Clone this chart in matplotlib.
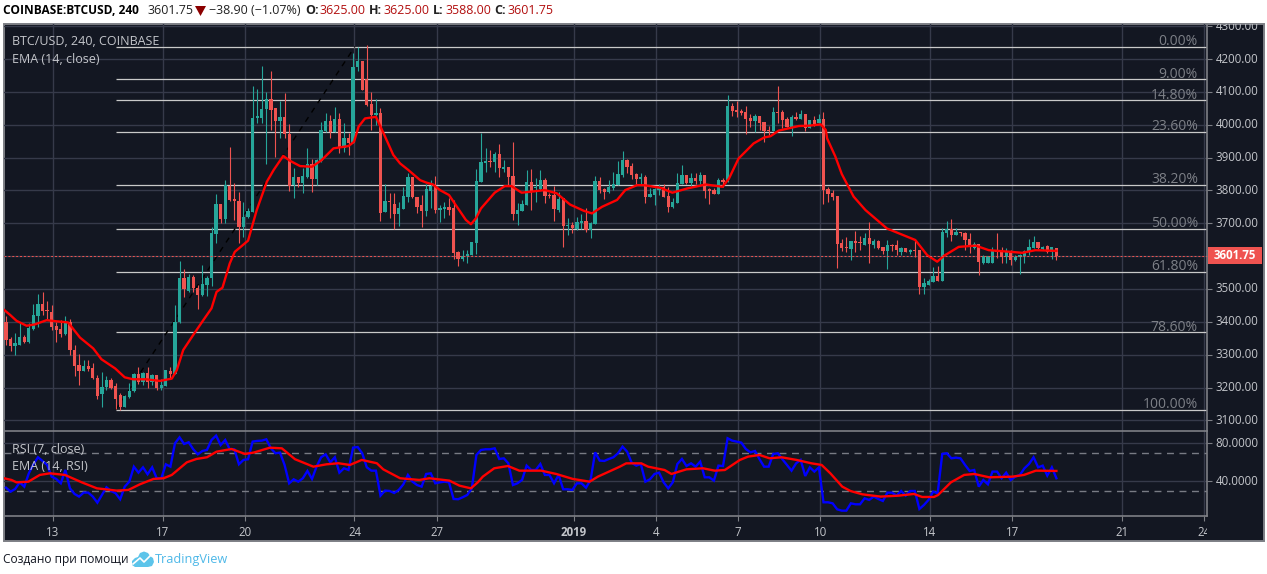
import matplotlib
matplotlib.use("Agg")
import matplotlib.pyplot as plt
from matplotlib.patches import Rectangle, Polygon
from matplotlib.transforms import Affine2D, Bbox

opens = [3400,3348,3326,3330,3355,3338,3379,3418,3455,3437,
3431,3388,3377,3362,3400,3315,3268,3251,3265,3258,
3230,3180,3202,3222,3205,3177,3142,3170,3188,3240,
3218,3244,3217,3239,3200,3205,3250,3242,3400,3533,
3495,3535,3502,3482,3512,3532,3667,3758,3712,3813,
3774,3768,3690,3720,3735,4021,4021,4047,4077,4052,
4011,4023,3971,3815,3840,3823,3840,3880,3834,3890,
3982,4011,3979,4017,3930,3959,3943,4177,4194,4138,
4062,4030,4035,3735,3768,3760,3728,3742,3781,3840,
3781,3755,3738,3798,3813,3740,3743,3749,3746,3612,
3591,3600,3603,3641,3827,3884,3890,3887,3910,3865,
3871,3844,3728,3738,3756,3826,3806,3803,3831,3787,
3786,3740,3778,3692,3695,3681,3700,3707,3680,3699,
3829,3805,3795,3808,3815,3847,3893,3874,3851,3834,
3841,3781,3786,3801,3811,3783,3749,3761,3821,3847,
3823,3838,3828,3847,3803,3801,3789,3832,3826,4057,
4045,4042,4039,4020,4010,4026,4008,3983,3981,4038,
4038,4017,3994,4023,4017,4032,3991,4014,4004,4017,
3804,3792,3783,3641,3628,3623,3646,3644,3634,3655,
3634,3646,3628,3617,3634,3634,3614,3626,3613,3620,
3618,3507,3513,3522,3539,3525,3671,3683,3665,3673,
3669,3652,3625,3637,3578,3579,3579,3618,3616,3596,
3616,3588,3596,3601,3613,3625,3644,3623,3630,3611,3625]

closes = [3345,3326,3335,3354,3340,3380,3421,3455,3433,3432,
3385,3375,3363,3400,3315,3265,3250,3265,3255,3228,
3175,3200,3224,3200,3165,3140,3175,3188,3240,3218,
3245,3216,3239,3199,3209,3252,3242,3400,3532,3499,
3537,3502,3482,3515,3534,3669,3758,3712,3816,3771,
3768,3690,3720,3738,4021,4027,4048,4077,4045,4011,
4023,3971,3813,3840,3822,3844,3880,3834,3893,3984,
4011,3978,4017,3928,3958,3943,4175,4194,4106,4060,
4030,4035,3732,3768,3766,3729,3745,3783,3840,3781,
3750,3738,3804,3813,3740,3746,3749,3740,3610,3591,
3600,3605,3643,3829,3885,3889,3886,3910,3867,3871,
3842,3728,3740,3758,3826,3796,3811,3831,3783,3783,
3743,3774,3692,3696,3685,3704,3707,3680,3702,3829,
3801,3795,3810,3819,3850,3893,3870,3847,3834,3841,
3781,3789,3804,3811,3781,3749,3765,3823,3847,3823,
3838,3828,3847,3798,3798,3789,3832,3826,4057,4041,
4040,4037,4016,4010,4026,4006,3981,3980,4038,4035,
4014,3994,4022,4016,4032,3991,4014,4002,4017,3801,
3790,3780,3638,3626,3624,3646,3641,3641,3655,3637,
3647,3625,3617,3634,3631,3619,3626,3613,3620,3616,
3507,3517,3524,3539,3525,3673,3683,3664,3673,3669,
3649,3632,3637,3583,3600,3600,3618,3613,3596,3611,
3588,3596,3603,3615,3627,3644,3626,3628,3611,3628,3601.75]

highs = [3418,3355,3365,3395,3360,3395,3455,3485,3490,3464,
3452,3400,3405,3418,3408,3330,3302,3285,3285,3275,
3238,3248,3235,3230,3215,3182,3177,3215,3243,3262,
3247,3263,3242,3239,3227,3254,3263,3452,3585,3560,
3545,3543,3512,3573,3538,3690,3790,3758,3832,3931,
3823,3796,3765,3745,4118,4110,4179,4100,4164,4052,
4072,4098,4002,3867,3840,3867,3928,3895,3895,4008,
4035,4030,4053,4035,4004,3974,4217,4237,4194,4243,
4101,4077,4050,3820,3793,3791,3765,3811,3852,3840,
3781,3786,3821,3832,3844,3757,3765,3776,3770,3615,
3618,3618,3643,3865,3974,3928,3923,3916,3941,3892,
3871,3947,3762,3771,3862,3865,3837,3862,3837,3793,
3814,3794,3778,3715,3705,3720,3728,3747,3705,3844,
3842,3808,3832,3855,3890,3920,3896,3882,3853,3852,
3846,3806,3806,3821,3818,3811,3776,3852,3877,3847,
3852,3852,3855,3847,3808,3808,3838,3838,4090,4065,
4072,4047,4057,4034,4032,4026,4008,3996,4053,4118,
4045,4024,4029,4038,4045,4032,4014,4026,4032,4038,
3809,3801,3783,3652,3657,3646,3677,3661,3669,3704,
3651,3649,3628,3649,3637,3649,3628,3626,3622,3649,
3618,3532,3529,3568,3570,3687,3707,3713,3687,3673,
3674,3669,3643,3637,3603,3600,3628,3669,3628,3626,
3618,3603,3605,3620,3652,3661,3644,3632,3634,3628,3625]

lows = [3330,3312,3298,3330,3336,3335,3375,3385,3420,3410,
3375,3340,3355,3360,3300,3235,3207,3250,3250,3226,
3165,3140,3192,3195,3135,3133,3142,3168,3185,3210,
3208,3200,3208,3192,3192,3205,3230,3242,3395,3475,
3490,3490,3440,3478,3480,3510,3640,3700,3702,3769,
3710,3641,3659,3715,3733,4005,4006,3880,3984,3901,
3961,3961,3799,3778,3811,3793,3837,3796,3816,3887,
3979,3958,3977,3913,3917,3908,3943,4164,4106,4058,
3984,3999,3708,3735,3715,3681,3691,3742,3766,3776,
3730,3690,3722,3745,3730,3705,3715,3725,3591,3570,
3586,3580,3603,3606,3825,3857,3872,3857,3842,3857,
3816,3710,3696,3738,3756,3740,3765,3801,3763,3776,
3707,3735,3629,3664,3669,3680,3681,3674,3656,3699,
3793,3773,3793,3801,3815,3842,3852,3836,3819,3821,
3762,3781,3756,3785,3779,3735,3745,3761,3821,3820,
3813,3819,3819,3777,3758,3789,3789,3811,3826,4026,
4023,4030,3972,3994,3978,3984,3947,3969,3981,4006,
3990,3992,3967,4014,4017,3981,3991,3996,4004,3759,
3766,3771,3565,3616,3611,3588,3613,3619,3634,3580,
3626,3621,3606,3561,3615,3603,3603,3611,3606,3598,
3485,3485,3512,3522,3525,3525,3659,3647,3664,3661,
3618,3608,3623,3543,3575,3579,3579,3593,3580,3580,
3573,3586,3545,3580,3603,3625,3623,3619,3610,3591,3588]

ema_x = [-0.4,0.9,2.3,4.5,6.3,8.9,10.7,13.6,16.2,19.1,20.9,23.9,26,27.8,30.7,33.7,36.3,37.4,38.8,41,43.2,45,46.1,
47.4,49,50.1,53,54.9,57.1,58.6,60.7,62.2,64.4,67,69.1,71.7,75,76.2,77.2,78.6,81,82.7,84.8,86.3,88.1,90.7,
92,93.5,95,97,98.5,100.7,101.8,102.9,104,107,109.2,110.7,112.9,115.5,118,120.6,123.5,126.5,128.3,130.5,133.8,135.6,138.2,139.6,143.3,145.9,149.2,153.2,156.9,158.3,160.4,163.7,166,167.4,169.2,173.6,175.8,178.4,179.5,
179.8,181.6,183,185.6,188.2,192.9,199.1,201.7,203.9,205.4,208.6,212.3,215.2,220,222.5,225.4,230]
ema_y = [3436,3421,3403,3388,3392,3405,3402,3398,3352,3319,3286,3258,3231,3225,3225,3220,3227,3253,3314,3360,3405,3441,3491,
3504,3578,3613,3647,3740,3826,3862,3905,3890,3874,3872,3892,3928,3935,3948,3994,4019,4024,3973,3908,3882,3862,3831,
3824,3818,3801,3786,3755,3710,3697,3715,3745,3793,3813,3813,3793,3797,3801,3791,3757,3738,3730,3750,3771,3801,3816,3816,3808,3793,3806,3818,3811,3836,3897,3943,3961,3965,3982,3996,3997,4001,3984,
3958,3903,3850,3781,3740,3684,3649,3603,3583,3601,3628,3632,3618,3613,3610,3618,3616]

rsi = [33.3,29.1,31.9,38.9,34.4,48.4,57.9,65.3,61.4,57.2,
44.9,42.5,37.9,51.9,32.6,26.7,23.9,28.1,28.1,23.9,
17.5,25.6,33.7,29.8,27.4,21.1,34.4,39.6,55.4,49.1,
54.7,47.4,54.7,43.2,43.2,57.9,55.4,80.0,86.3,79.3,
81.1,73.7,68.4,71.9,73.0,83.5,88.1,78.2,83.5,73.7,
73.7,57.9,62.5,63.2,81.8,82.5,82.8,84.2,74.7,69.5,
70.2,57.2,37.9,42.1,39.6,43.2,50.9,42.5,55.4,65.3,
68.4,60.0,65.3,49.1,53.7,51.9,75.4,76.1,69.5,54.7,
51.2,51.2,24.9,30.2,29.8,27.7,30.9,36.8,46.7,39.6,
36.1,34.4,47.7,48.4,37.9,38.9,39.6,38.9,21.4,21.1,
23.2,25.6,32.6,67.7,73.0,73.7,73.7,74.7,63.5,64.2,
58.9,36.1,37.9,41.4,56.5,51.9,51.9,58.2,46.7,46.7,
37.9,46.7,31.6,31.6,30.9,37.9,37.9,33.3,41.4,70.5,
61.8,61.4,63.5,65.3,69.5,76.5,71.2,59.6,56.5,58.2,
39.6,42.1,47.7,49.1,38.9,32.6,38.9,58.2,63.5,56.1,
58.9,55.4,60.7,44.2,44.2,40.7,56.5,56.1,85.3,82.8,
81.8,80.7,74.0,70.5,71.9,63.2,55.4,55.4,68.8,69.5,
63.2,57.2,51.2,58.9,62.5,45.6,54.7,50.2,54.7,17.9,
17.9,16.8,10.5,9.1,9.1,16.8,15.8,15.8,22.1,20.4,
23.9,21.4,19.3,28.1,28.1,24.9,29.8,24.9,29.8,29.8,
10.9,15.1,20.4,29.1,27.4,68.8,69.5,64.2,64.9,64.2,
57.2,50.9,51.9,34.4,41.4,36.8,50.2,50.2,43.2,49.1,
41.4,44.9,46.7,53.7,58.2,65.3,54.7,56.5,46.0,54.7,43.2]

rsi_ema_x = [-0.4,1.2,2.3,4.9,7.4,9.6,12.9,16.6,19.9,24.2,26.8,29.3,32.3,34.5,36.3,39.6,41.7,44,46.1,49.4,52.3,54.2,57.8,60.4,63.3,67.3,70.2,72.8,75.3,77.9,81.2,82.6,86.3,90.5,
92.7,97.1,99.3,101.8,103.3,104.4,106.9,109.9,112.4,117.2,120.5,124.1,127.8,129.6,134.4,135.8,139.1,140.6,144.2,145.7,149,152.6,155.2,157.4,160.7,162.5,165,167.2,169.8,173.1,176.4,178.6,
180.5,183.1,184.9,187.5,191.5,195.5,198.8,200.6,203.2,204.1,206.9,209.8,212,215.3,220.4,222.9,225.5,230]
rsi_ema_y = [43.2,41.4,38.9,39.6,46.7,48.4,46.7,38.9,32.6,30.2,30.9,36.8,42.5,43.2,46.7,60,63.5,65.3,71.2,74,68.8,70.2,75.4,74.7,63.2,55.4,57.9,59,57.2,62.5,59,52.6,43.2,41.4,
43.2,40.7,35.4,32.6,38.9,44.9,53.7,56.1,51.2,51.2,47.7,42.5,39.6,44.9,55.4,58.9,58.9,55.4,51.9,47.7,52.6,53.7,51.2,51.9,62.5,66,67.7,64.2,65.3,62.5,58.9,57.2,
48.4,34.4,29.8,26.3,23.9,24.9,26.7,23.5,23.5,25.6,38.9,46.7,47.7,44.2,44.9,46.7,51.2,50.9]

fib_levels = [4238,4138,4074,3977,3816,3684,3553,3368,3133]
fib_labels = ["0.00%","9.00%","14.80%","23.60%","38.20%","50.00%","61.80%","78.60%","100.00%"]
fib_start = 24.1
trend_x = [24.1,76.4]
trend_y = [3133,4238]
price_ticks = [4300,4200,4100,4000,3900,3800,3700,3600,3500,3400,3300,3200,3100]
rsi_ticks = [80,40]
rsi_bands = [70,30]
date_pos = [10,34,52,76,94,124,142,160,178,202,220,244,262]
date_labels = ["13","17","20","24","27","2019","4","7","10","14","17","21","24"]
last_price = 3601.75
header_items = [("COINBASE:BTCUSD, 240",3,"#000000","bold",8.6),("3601.75",147,"#222222","normal",9.0),
                ("\u221238.90 (\u22121.07%)",209,"#222222","normal",9.0),("O:",305.5,"#222222","bold",9.0),("3625.00",320,"#b20f0f","normal",9.0),
                ("H:",369,"#222222","bold",9.0),("3625.00",383,"#b20f0f","normal",9.0),("L:",433,"#222222","bold",9.0),
                ("3588.00",445,"#b20f0f","normal",9.0),("C:",494,"#222222","bold",9.0),("3601.75",507,"#b20f0f","normal",9.0)]

W, H = 1267, 574
BG, GRID, UP, DOWN = "#131722", "#363a4a", "#26a69a", "#ef5350"
EDGE, TXT = "#7d7f85", "#c4c6cb"
plt.rcParams["font.family"] = ["Open Sans", "DejaVu Sans"]

fig = plt.figure(figsize=(W/100, H/100), dpi=100, facecolor="white")
PX = Affine2D().scale(1/W, -1/H).translate(0, 1) + fig.transFigure

def axes_px(l, t, r, b):
    return fig.add_axes([l/W, 1-b/H, (r-l)/W, (b-t)/H], facecolor="none")

fig.add_artist(Rectangle((3.5, 24), 1260.5, 517, transform=PX, fc=BG, ec=EDGE, lw=1.4, zorder=0))

X0, DX = 6.0, 4.567
xlim = ((3.5-X0)/DX, (1207-X0)/DX)
ax = axes_px(3.5, 24, 1207, 431)
ax2 = axes_px(3.5, 431, 1207, 516)
ax.set_xlim(*xlim); ax2.set_xlim(*xlim)
ax.set_ylim(4200-(431-59)/0.3285, 4200+(59-24)/0.3285)
ax2.set_ylim(40-(516-481.3)/0.95, 40+(481.3-431)/0.95)

tick_x = [p+0.3 for p in date_pos]
for a in (ax, ax2):
    a.set_xticks(tick_x)
    a.xaxis.grid(True, color=GRID, lw=1.0)
    a.yaxis.grid(True, color=GRID, lw=1.0)
    a.set_axisbelow(True)
    a.yaxis.tick_right()
    for s in a.spines.values():
        s.set_visible(False)
    a.spines["right"].set_visible(True); a.spines["right"].set_color(EDGE); a.spines["right"].set_linewidth(1.2)
    a.tick_params(axis="y", colors=TXT, labelsize=8.3, length=3.5, width=0.8, color=EDGE, pad=2.5)

ax.tick_params(axis="x", length=0, labelbottom=False)
ax.set_yticks(price_ticks)
ax.set_yticklabels([f"{p:.2f}" for p in price_ticks], va="center")
ax2.set_yticks(rsi_ticks)
ax2.set_yticklabels([f"{p:.4f}" for p in rsi_ticks], va="center")
ax2.spines["top"].set_visible(True); ax2.spines["top"].set_color(EDGE); ax2.spines["top"].set_linewidth(1.2)
ax2.spines["bottom"].set_visible(True); ax2.spines["bottom"].set_color(EDGE); ax2.spines["bottom"].set_linewidth(1.2)
ax2.tick_params(axis="x", colors=TXT, labelsize=8.3, length=3.5, width=0.8, color=EDGE, pad=3.5)
ax2.set_xticklabels(date_labels)
for lab in ax2.get_xticklabels():
    if lab.get_text() == "2019":
        lab.set_fontweight("bold")

# labels cut by the pane edges
fig.canvas.draw()
clip_all = Bbox.from_extents(3.5/W, 1-541/H, 1264/W, 1-24/H).transformed(fig.transFigure)
clip_time = Bbox.from_extents(3.5/W, 1-541/H, 1207/W, 1-516/H).transformed(fig.transFigure)
for lab in ax.get_yticklabels():
    lab.set_clip_box(clip_all); lab.set_clip_on(True)
for lab in ax2.get_xticklabels():
    lab.set_clip_box(clip_time); lab.set_clip_on(True)

# Fibonacci levels
for lev, name in zip(fib_levels, fib_labels):
    ax.plot([fib_start, xlim[1]], [lev, lev], color="#c9c9c9", lw=0.9, zorder=2, solid_capstyle="butt")
    ax.annotate(name, xy=((1198-X0)/DX, lev), xytext=(0, -1.6), textcoords="offset points",
                ha="right", va="bottom", color="#7d8087", fontsize=10, zorder=5)
ax.plot(trend_x, trend_y, color="#000000", lw=1.0, ls=(0, (4, 4)), zorder=2.5)

# candles
for i, (o, h, l, c) in enumerate(zip(opens, highs, lows, closes)):
    col = UP if c >= o else DOWN
    ax.plot([i, i], [l, h], color=col, lw=0.8, zorder=3, solid_capstyle="butt")
    ax.bar(i, max(abs(c-o), 3), bottom=min(o, c), width=0.72, color=col, lw=0, zorder=3.2)

ax.plot(ema_x, ema_y, color="#ff0000", lw=1.7, zorder=4, solid_joinstyle="round")
ax.axhline(last_price, color=DOWN, lw=0.7, ls=(0, (2, 2)), zorder=4.5)

# RSI pane
for b in rsi_bands:
    ax2.axhline(b, color="#787b84", lw=1.0, ls=(0, (5, 4)), zorder=2)
ax2.plot(range(len(rsi)), rsi, color="#0000ff", lw=1.7, zorder=3, solid_joinstyle="miter")
ax2.plot(rsi_ema_x, rsi_ema_y, color="#ff0000", lw=1.7, zorder=4)

# pane legends
lab_kw = dict(transform=PX, color=TXT, fontsize=9, va="center", ha="left", zorder=10)
fig.text(12, 41.5, "BTC/USD, 240, COINBASE", **lab_kw)
fig.text(12, 59.5, "EMA (14, close)", **lab_kw)
fig.text(12, 449.5, "RSI (7, close)", **lab_kw)
fig.text(12, 466.5, "EMA (14, RSI)", **lab_kw)

# last price tag
fig.add_artist(Rectangle((1207.5, 247), 54, 17, transform=PX, fc=DOWN, ec="none", zorder=8))
fig.text(1234.5, 255.5, f"{last_price:.2f}", transform=PX, color="white", fontsize=8.3, fontweight="bold",
         va="center", ha="center", zorder=9)

# header
for txt, x, col, wt, fs in header_items:
    fig.text(x, 10.5, txt, transform=PX, color=col, fontsize=fs, fontweight=wt, va="center", ha="left")
fig.add_artist(Polygon([(195, 6), (206, 6), (200.5, 16)], transform=PX, fc="#8b0000", ec="none"))

# footer
fig.text(3, 560, "\u0421\u043e\u0437\u0434\u0430\u043d\u043e \u043f\u0440\u0438 \u043f\u043e\u043c\u043e\u0449\u0438", transform=PX, color="#131722", fontsize=8.6, va="center", ha="left")
fig.text(155, 560, "TradingView", transform=PX, color="#4db8e8", fontsize=9.2, va="center", ha="left")
cloud = [(132, 565), (132, 561), (135, 558), (138, 557), (140, 553), (144, 551.5), (148, 553), (150, 556),
         (153, 558), (154, 562), (152, 566), (148, 567), (135, 567)]
fig.add_artist(Polygon(cloud, transform=PX, fc="#5cc4ea", ec="none"))
fig.add_artist(plt.Line2D([133, 140, 144, 150], [564, 558, 562, 556], transform=PX, color="white", lw=1.2))

fig.savefig("out.png", dpi=100, facecolor="white")
